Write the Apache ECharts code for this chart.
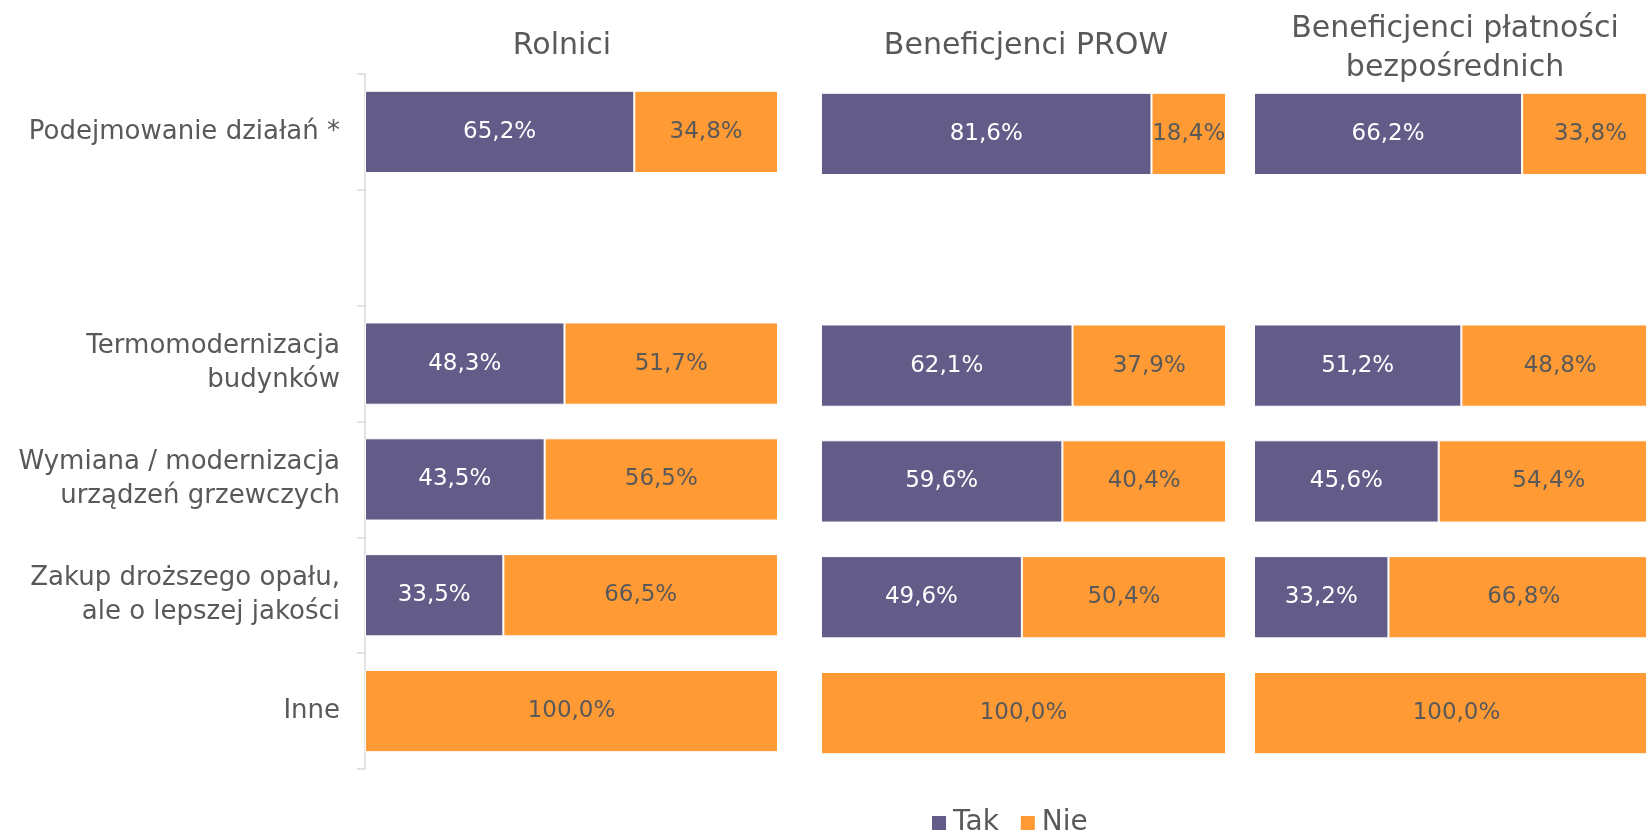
<!DOCTYPE html>
<html>
<head>
<meta charset="utf-8">
<script src="https://cdn.jsdelivr.net/npm/echarts@6/dist/echarts.min.js"></script>
<style>
  html, body { margin: 0; padding: 0; background: #fff; }
  #chart { width: 1646px; height: 834px; }
</style>
</head>
<body>
<div id="chart"></div>
<script>
// Activities row labels (the empty row is a spacer between the summary and the details)
const categories = [
  'Podejmowanie działań *',
  '',
  'Termomodernizacja\nbudynków',
  'Wymiana / modernizacja\nurządzeń grzewczych',
  'Zakup droższego opału,\nale o lepszej jakości',
  'Inne'
];

const panelTitles = ['Rolnici', 'Beneficjenci PROW', 'Beneficjenci płatności\nbezpośrednich'];
const seriesNames = ['Tak', 'Nie'];

// Shares in percent, one array per respondent group
const rolniciTak = [65.2, null, 48.3, 43.5, 33.5, null];
const rolniciNie = [34.8, null, 51.7, 56.5, 66.5, 100.0];
const prowTak    = [81.6, null, 62.1, 59.6, 49.6, null];
const prowNie    = [18.4, null, 37.9, 40.4, 50.4, 100.0];
const bezpTak    = [66.2, null, 51.2, 45.6, 33.2, null];
const bezpNie    = [33.8, null, 48.8, 54.4, 66.8, 100.0];

const groups = [
  { tak: rolniciTak, nie: rolniciNie },
  { tak: prowTak, nie: prowNie },
  { tak: bezpTak, nie: bezpNie }
];

const FONT = 'DejaVu Sans';
const PURPLE = '#635C89';
const ORANGE = '#FF9A35';
const GREY_TEXT = '#595959';

// The last panel runs past the right edge of the canvas
const gridBoxes = [
  { left: 365, width: 413, top: 74, height: 695 },
  { left: 821, width: 405, top: 76, height: 695 },
  { left: 1254, width: 405, top: 76, height: 695 }
];
const titlePos = [
  { x: 562, y: 46 },
  { x: 1026, y: 46 },
  { x: 1455, y: 49 }
];

const fmt = p => (p.value == null || p.value === 0) ? '' : p.value.toFixed(1).replace('.', ',') + '%';

const grid = [], xAxis = [], yAxis = [], series = [];
groups.forEach((g, i) => {
  grid.push(Object.assign({ containLabel: false, outerBoundsMode: 'none' }, gridBoxes[i]));
  xAxis.push({
    type: 'value', gridIndex: i, min: 0, max: 100,
    show: false
  });
  yAxis.push({
    type: 'category', gridIndex: i, inverse: true, data: categories,
    axisLine: { show: i === 0, lineStyle: { color: '#D9D9D9', width: 1.5 } },
    axisTick: { show: i === 0, length: 8, lineStyle: { color: '#D9D9D9', width: 1.5 } },
    axisLabel: {
      show: i === 0, margin: 25, color: GREY_TEXT, fontFamily: FONT,
      fontSize: 26, lineHeight: 34, align: 'right'
    }
  });
  series.push({
    name: seriesNames[0], type: 'bar', stack: 'g' + i,
    xAxisIndex: i, yAxisIndex: i, data: g.tak, barWidth: '71%',
    itemStyle: { color: PURPLE, borderColor: '#fff', borderWidth: 1 },
    label: { show: true, position: 'inside', formatter: fmt, color: '#fff', fontFamily: FONT, fontSize: 23 }
  });
  series.push({
    name: seriesNames[1], type: 'bar', stack: 'g' + i,
    xAxisIndex: i, yAxisIndex: i, data: g.nie, barWidth: '71%',
    itemStyle: { color: ORANGE, borderColor: '#fff', borderWidth: 1 },
    label: { show: true, position: 'inside', formatter: fmt, color: GREY_TEXT, fontFamily: FONT, fontSize: 23 }
  });
});

const graphic = panelTitles.map((t, i) => ({
  type: 'text', x: titlePos[i].x, y: titlePos[i].y,
  style: {
    text: t, fill: GREY_TEXT, font: '30px "' + FONT + '"',
    textAlign: 'center', textVerticalAlign: 'middle', lineHeight: 39
  }
}));

const chart = echarts.init(document.getElementById('chart'));
chart.setOption({
  animation: false,
  backgroundColor: '#fff',
  grid, xAxis, yAxis, series, graphic,
  legend: {
    data: seriesNames, left: 925, top: 804,
    itemWidth: 16, itemHeight: 16, itemGap: 20, icon: 'rect',
    textStyle: { color: GREY_TEXT, fontFamily: FONT, fontSize: 28, padding: [0, 0, 0, 1] }
  }
});
</script>
</body>
</html>
